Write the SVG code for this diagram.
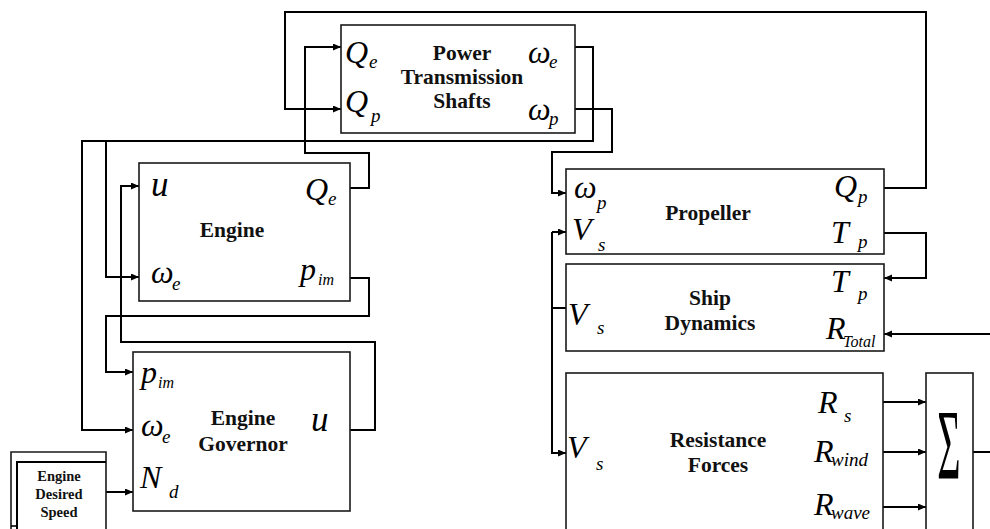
<svg xmlns="http://www.w3.org/2000/svg" width="990" height="529" viewBox="0 0 990 529">
<defs>
<marker id="arr" markerUnits="userSpaceOnUse" markerWidth="9" markerHeight="8" refX="8" refY="3.5" orient="auto">
<path d="M0,0 L8,3.5 L0,7 z" fill="#000"/>
</marker>
<style>
.box{fill:#fff;stroke:#1a1a1a;stroke-width:1.6}
.c{fill:none;stroke:#000;stroke-width:2}
.a{marker-end:url(#arr)}
.m{font-family:'Liberation Serif','DejaVu Serif',serif;font-style:italic;fill:#000}
.big{font-size:32px}
.u{font-size:35px}
.sub{font-size:19px}
.ss{font-size:16px}
.t{font-family:'Liberation Serif','DejaVu Serif',serif;font-weight:bold;font-size:21.5px;text-anchor:middle;fill:#111}
.ts{font-family:'Liberation Serif','DejaVu Serif',serif;font-weight:bold;font-size:14.5px;text-anchor:middle;fill:#111}
</style>
</defs>
<rect width="990" height="529" fill="#fff"/>

<g id="connectors">
<polyline class="c a" points="884,188 926,188 926,12 285,12 285,109 341,109"/>
<polyline class="c a" points="350,188 369,188 369,153 305,153 305,47 341,47"/>
<polyline class="c a" points="575,47 593,47 593,141 82,141 82,430 133,430"/>
<polyline class="c a" points="106,141 106,277 139,277"/>
<polyline class="c a" points="575,109 612,109 612,152 552,152 552,193 566,193"/>
<polyline class="c a" points="350,430 375,430 375,342 121,342 121,186 139,186"/>
<polyline class="c a" points="350,278 369,278 369,316 106,316 106,372 133,372"/>
<polyline class="c" points="566,308 552,308"/>
<polyline class="c a" points="552,232 566,232"/>
<polyline class="c a" points="552,232 552,453 566,453"/>
<polyline class="c a" points="884,233 926,233 926,278 884,278"/>
<polyline class="c a" points="990,334 884,334"/>
<polyline class="c a" points="883,402 926,402"/>
<polyline class="c a" points="883,452 926,452"/>
<polyline class="c a" points="883,507 926,507"/>
<polyline class="c" points="973,452 990,452"/>
<polyline class="c a" points="106,492 133,492"/>
</g>

<g id="pts">
<rect class="box" x="341" y="25" width="234" height="108"/>
<text class="m big" x="345" y="63">Q</text><text class="m sub" x="369" y="68">e</text>
<text class="m big" x="345" y="112">Q</text><text class="m sub" x="371" y="122">p</text>
<text class="m big" x="528" y="63">ω</text><text class="m sub" x="549" y="68">e</text>
<text class="m big" x="528" y="120">ω</text><text class="m sub" x="549" y="125">p</text>
<text class="t" x="462" y="60">Power</text>
<text class="t" x="462" y="84">Transmission</text>
<text class="t" x="462" y="108">Shafts</text>
</g>

<g id="engine">
<rect class="box" x="139" y="163" width="211" height="138"/>
<text class="m u" x="151" y="196">u</text>
<text class="m big" x="305" y="200">Q</text><text class="m sub" x="328" y="205">e</text>
<text class="m big" x="151" y="283">ω</text><text class="m sub" x="172" y="290">e</text>
<text class="m big" x="300" y="280">p</text><text class="m ss" x="318" y="285">im</text>
<text class="t" x="232" y="237">Engine</text>
</g>

<g id="governor">
<rect class="box" x="133" y="352" width="217" height="159"/>
<text class="m big" x="141" y="383">p</text><text class="m ss" x="158" y="388">im</text>
<text class="m big" x="141" y="436">ω</text><text class="m sub" x="162" y="443">e</text>
<text class="m big" x="140" y="488">N</text><text class="m sub" x="169" y="498">d</text>
<text class="m u" x="311" y="431">u</text>
<text class="t" x="243" y="425">Engine</text>
<text class="t" x="243" y="451">Governor</text>
</g>

<g id="desired-speed">
<path d="M11,529 V452 H106 V529" fill="#fff" stroke="#1a1a1a" stroke-width="1.6"/>
<path d="M17,529 V462 H106" fill="none" stroke="#000" stroke-width="2"/>
<path d="M11,526 H17" fill="none" stroke="#000" stroke-width="1.6"/>
<text class="ts" x="59" y="481">Engine</text>
<text class="ts" x="59" y="499">Desired</text>
<text class="ts" x="59" y="517">Speed</text>
</g>

<g id="propeller">
<rect class="box" x="566" y="169" width="318" height="85"/>
<text class="m big" x="574" y="198">ω</text><text class="m sub" x="597" y="209">p</text>
<text class="m big" x="572" y="240">V</text><text class="m sub" x="598" y="251">s</text>
<text class="m big" x="834" y="197">Q</text><text class="m sub" x="858" y="203">p</text>
<text class="m big" x="831" y="243">T</text><text class="m sub" x="858" y="248">p</text>
<text class="t" x="708" y="220">Propeller</text>
</g>

<g id="ship-dynamics">
<rect class="box" x="566" y="264" width="318" height="87"/>
<text class="m big" x="568" y="325">V</text><text class="m sub" x="597" y="334">s</text>
<text class="m big" x="831" y="292">T</text><text class="m sub" x="858" y="300">p</text>
<text class="m big" x="826" y="339">R</text><text class="m ss" x="843" y="347">Total</text>
<text class="t" x="710" y="305">Ship</text>
<text class="t" x="710" y="330">Dynamics</text>
</g>

<g id="resistance">
<rect class="box" x="566" y="373" width="317" height="170"/>
<text class="m big" x="567" y="458">V</text><text class="m sub" x="596" y="470">s</text>
<text class="m big" x="818" y="413">R</text><text class="m sub" x="844" y="422">s</text>
<text class="m big" x="814" y="462">R</text><text class="m sub" x="831" y="466">wind</text>
<text class="m big" x="814" y="515">R</text><text class="m sub" x="831" y="519">wave</text>
<text class="t" x="718" y="447">Resistance</text>
<text class="t" x="718" y="472">Forces</text>
</g>

<g id="sum">
<rect class="box" x="926" y="373" width="47" height="170"/>
<text transform="translate(949,478) scale(0.4,1)" font-family="'Liberation Serif','DejaVu Serif',serif" font-size="100" text-anchor="middle" fill="#000">Σ</text>
</g>
</svg>
